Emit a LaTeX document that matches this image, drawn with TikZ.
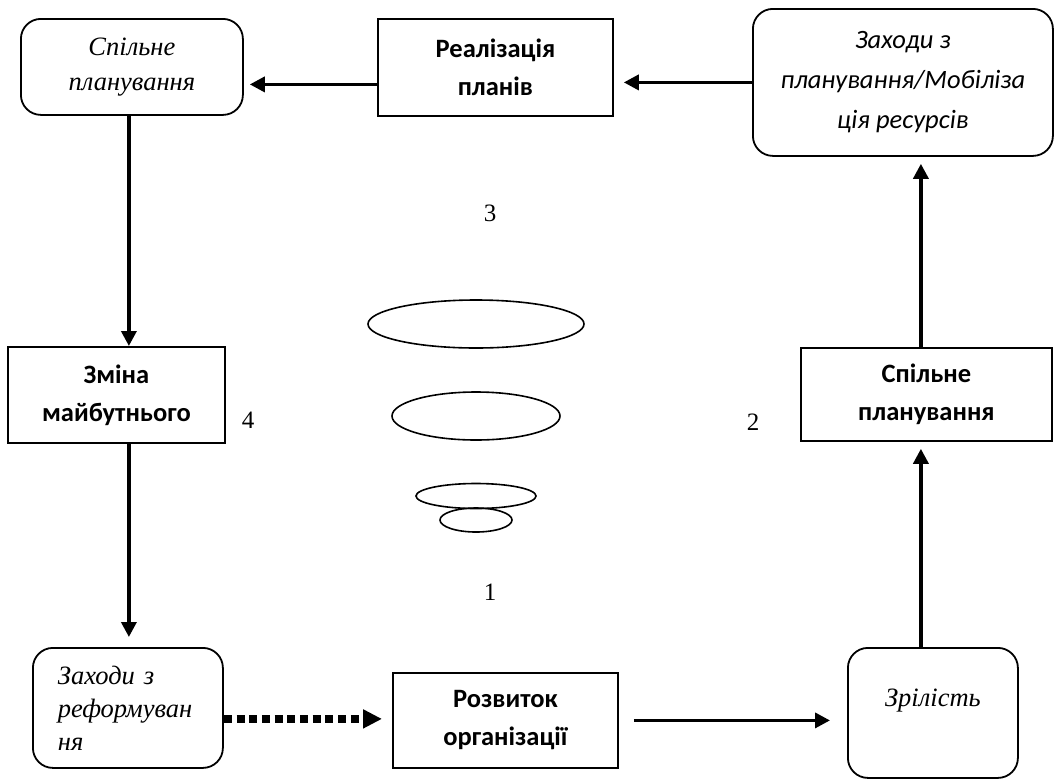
\documentclass[tikz,border=0pt]{standalone}
\usepackage{fontspec}
\setmainfont{Liberation Serif}
\newfontfamily\carl{Carlito}
\usetikzlibrary{arrows.meta}
\begin{document}
\begin{tikzpicture}[x=1pt,y=-1pt,
  rbox/.style={draw, line width=1.8pt, rounded corners=20pt, inner sep=0pt, anchor=north west},
  sbox/.style={draw, line width=1.8pt, inner sep=0pt, anchor=north west},
  serit/.style={font=\fontsize{26.5}{35}\selectfont\itshape, align=center},
  sansbf/.style={font=\carl\fontsize{26.5}{38}\selectfont\bfseries, align=center},
  sansit/.style={font=\carl\fontsize{26.5}{40}\selectfont\itshape, align=center},
  num/.style={font=\fontsize{25}{28}\selectfont},
  arr/.style={line width=3.5pt, -{Triangle[length=15pt,width=15pt]}},
  dotarr/.style={line width=7.5pt, dash pattern=on 8pt off 4.7pt, -{Triangle[length=19pt,width=18pt]}},
  ell/.style={line width=1.6pt}
]
\useasboundingbox (0,0) rectangle (1054,780);

\node[rbox, serit, minimum width=222pt, minimum height=96pt] (sp1) at (20,18) {Спільне\\планування};
\node[sbox, sansbf, minimum width=235pt, minimum height=97pt] (real) at (377,18) {Реалізація\\планів};
\node[rbox, sansit, minimum width=300pt, minimum height=147pt] (zah1) at (752,8) {Заходи з\\планування/Мобіліза\\ція ресурсів};
\node[sbox, sansbf, minimum width=217pt, minimum height=96pt] (zmina) at (7,346) {Зміна\\майбутнього};
\node[sbox, sansbf, minimum width=251pt, minimum height=93pt] (sp2) at (800,347) {Спільне\\планування};
\node[rbox, font=\fontsize{26.5}{33}\selectfont\itshape, align=left, text width=140pt, minimum width=190pt, minimum height=120pt] (zahr) at (32,647) {Заходи з\\реформуван\\ня};
\node[rbox, font=\fontsize{26.5}{30}\selectfont\itshape, minimum width=170pt, text height=59pt, text depth=71pt] (zril) at (847,647) {Зрілість};
\node[sbox, sansbf, minimum width=225pt, minimum height=95pt] (rozv) at (392,672) {Розвиток\\організації};

\node[num] (n3) at (490,213) {3};
\node[num] (n4) at (248,420) {4};
\node[num] (n2) at (753,422) {2};
\node[num] (n1) at (490,592) {1};

\draw[ell] (476,324) ellipse [x radius=108pt, y radius=24pt];
\draw[ell] (476,416) ellipse [x radius=84pt, y radius=24pt];
\draw[ell] (476,496) ellipse [x radius=60pt, y radius=12.5pt];
\draw[ell] (476,520) ellipse [x radius=36pt, y radius=12pt];

\draw[arr, shorten >=10pt] (zah1.west) -- (zah1.west -| real.east);
\draw[arr, shorten >=6pt] ([yshift=-17pt]real.west) -- ([yshift=-17pt]real.west -| sp1.east);
\draw[arr] ([xshift=-3pt]sp1.south) -- ([xshift=-3pt]sp1.south |- zmina.north);
\draw[arr, shorten >=10pt] ([xshift=12.5pt]zmina.south) -- ([xshift=12.5pt]zmina.south |- zahr.north);
\draw[dotarr, shorten >=10pt] ([yshift=-11pt]zahr.east) -- ([yshift=-11pt]zahr.east -| rozv.west);
\draw[arr, shorten <=15pt, shorten >=17pt] (rozv.east) -- (rozv.east -| zril.west);
\draw[arr, shorten >=7pt] ([xshift=-12pt]zril.north) -- ([xshift=-12pt]zril.north |- sp2.south);
\draw[arr, shorten >=7pt] ([xshift=-5.5pt]sp2.north) -- ([xshift=-5.5pt]sp2.north |- zah1.south);
\end{tikzpicture}
\end{document}
